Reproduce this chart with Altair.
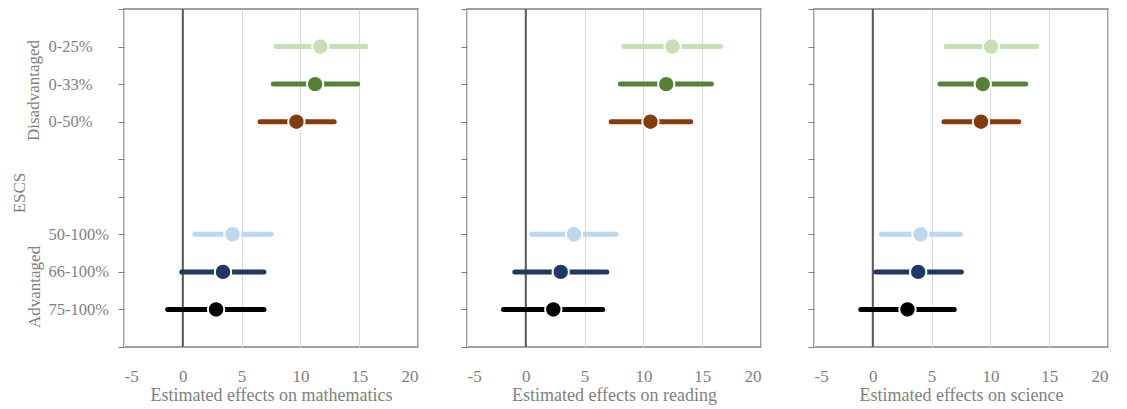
import altair as alt
import pandas as pd

groups = ["0-25%", "0-33%", "0-50%", "50-100%", "66-100%", "75-100%"]
ypos = [8, 7, 6, 3, 2, 1]
colors = ["#c5e0b4", "#548235", "#843c0c", "#bdd7ee", "#203864", "#000000"]

subjects = ["mathematics", "reading", "science"]
est = {
    "mathematics": [11.7, 11.25, 9.66, 4.22, 3.42, 2.83],
    "reading": [12.48, 11.94, 10.6, 4.1, 2.97, 2.34],
    "science": [10.06, 9.35, 9.2, 4.06, 3.86, 2.95],
}
lo = {
    "mathematics": [7.96, 7.7, 6.57, 1.04, -0.09, -1.28],
    "reading": [8.34, 8.05, 7.26, 0.52, -0.93, -1.89],
    "science": [6.25, 5.71, 6.05, 0.74, 0.26, -1.02],
}
hi = {
    "mathematics": [15.55, 14.87, 12.87, 7.5, 6.9, 6.9],
    "reading": [16.57, 15.78, 14.02, 7.68, 6.89, 6.54],
    "science": [13.95, 13.01, 12.41, 7.44, 7.53, 6.93],
}

group_labels = ["Disadvantaged", "Advantaged", "ESCS"]
group_label_y = [6.83, 1.6, 4.1]
group_label_x = [-90, -89, -104]

FONT = "Liberation Serif"
GRAY = "#7f7f7f"
W, H = 294, 338

label_expr = ("datum.value == 8 ? '0-25%' : datum.value == 7 ? '0-33%' : "
              "datum.value == 6 ? '0-50%' : datum.value == 3 ? '50-100%' : "
              "datum.value == 2 ? '66-100%' : datum.value == 1 ? '75-100%' : ''")

color_scale = alt.Scale(domain=groups, range=colors)
x_scale = alt.Scale(domain=[-5, 20], nice=False, zero=False)
y_scale = alt.Scale(domain=[0, 9], nice=False)


def panel(subject, first):
    df = pd.DataFrame({
        "group": groups,
        "y": ypos,
        "est": est[subject],
        "lo": lo[subject],
        "hi": hi[subject],
    })
    x_axis = alt.Axis(values=[-5, 0, 5, 10, 15, 20], grid=True, gridColor="#d9d9d9",
                      gridWidth=1, ticks=False, domain=False, labelPadding=21,
                      labelExpr="replace(datum.label, '\u2212', '-')",
                      labelFont=FONT, labelFontSize=17, labelColor=GRAY,
                      title="Estimated effects on " + subject, titleFont=FONT,
                      titleFontSize=18, titleColor=GRAY, titleFontWeight="normal",
                      titlePadding=2)
    if first:
        y_axis = alt.Axis(values=list(range(10)), labelExpr=label_expr, grid=False,
                          domain=False, tickColor=GRAY, tickSize=6, labelAlign="left",
                          labelPadding=70, labelFont=FONT, labelFontSize=16.5,
                          labelOverlap=False, labelBound=False, labelFlush=False,
                          labelColor=GRAY, title=None)
    else:
        y_axis = alt.Axis(values=list(range(10)), labels=False, grid=False,
                          domain=False, tickColor=GRAY, tickSize=6, title=None)

    base = alt.Chart(df)
    zero = alt.Chart(pd.DataFrame({"z": [0]})).mark_rule(color="#595959", strokeWidth=2).encode(
        x=alt.X("z:Q", scale=x_scale, axis=x_axis)
    )
    ci = base.mark_rule(strokeWidth=5, strokeCap="round").encode(
        x=alt.X("lo:Q", scale=x_scale, axis=x_axis),
        x2="hi:Q",
        y=alt.Y("y:Q", scale=y_scale, axis=y_axis),
        color=alt.Color("group:N", scale=color_scale, legend=None),
    )
    pts = base.mark_point(filled=True, size=270, opacity=1, stroke="white",
                          strokeWidth=2, shape="circle").encode(
        x=alt.X("est:Q", scale=x_scale, axis=x_axis),
        y=alt.Y("y:Q", scale=y_scale, axis=y_axis),
        fill=alt.Fill("group:N", scale=color_scale, legend=None),
    )
    layers = [zero, ci, pts]
    if first:
        tdf = pd.DataFrame({"t": group_labels, "ty": group_label_y})
        for t, tx in zip(group_labels, group_label_x):
            one = tdf[tdf.t == t]
            layers.append(alt.Chart(one).mark_text(angle=270, align="center", baseline="middle",
                                                   font=FONT, fontSize=17, color=GRAY).encode(
                x=alt.value(tx),
                y=alt.Y("ty:Q", scale=y_scale, axis=y_axis),
                text="t:N",
            ))
    return alt.layer(*layers).properties(width=W, height=H)


p1, p2, p3 = [panel(s, i == 0) for i, s in enumerate(subjects)]
right = alt.hconcat(p2, p3, spacing=44)
chart = alt.hconcat(p1, right, spacing=40).configure_view(
    stroke="#808080", strokeWidth=1.5
).configure_axisY(labelOverlap=False).properties(
    padding={"left": 10, "top": 0, "right": 5, "bottom": 0}, background="white")

chart.save("out.html", embed_options={"renderer": "svg", "actions": False})
